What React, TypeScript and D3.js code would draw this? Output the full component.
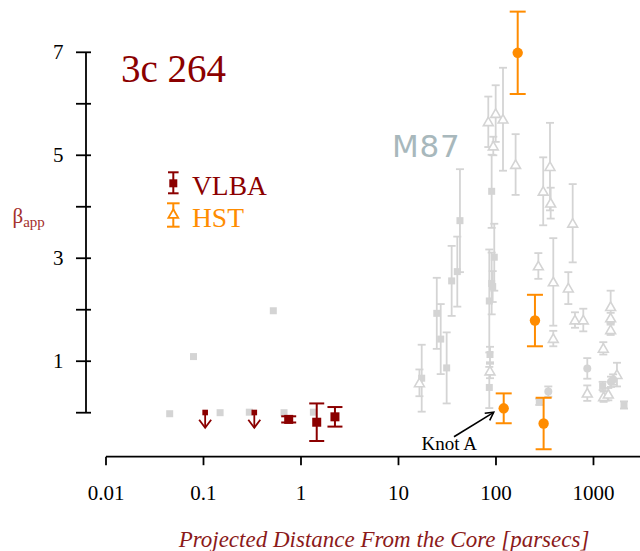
import React from 'react';
import * as d3 from 'd3';

const W = 640;
const H = 551;

// ---- 3c 264 : VLBA ----
const vlbaDist = [0.748, 1.45, 2.23];
const vlbaBeta = [-0.13, -0.185, -0.08];
const vlbaErr = [0.06, 0.365, 0.19];
const vlbaLimitDist = [0.104, 0.332];
const vlbaLimitBeta = [0, 0];

// ---- 3c 264 : HST ----
const hstDist = [120, 167, 251, 308];
const hstBeta = [0.085, 6.99, 1.79, -0.21];
const hstErr = [0.29, 0.8, 0.5, 0.5];

// ---- M87 comparison (grey) ----
const m87PlainDist = [0.045, 0.079, 0.148, 0.295, 0.52, 0.67, 1.34];
const m87PlainBeta = [-0.02, 1.09, 0, 0.01, 1.98, 0, 0.01];

const m87SqDist = [17.3, 24.7, 27.1, 31.2, 35.1, 40.1, 42.7, 90.3, 96, 90.3, 92.5, 85.4, 86.8, 85.4, 278, 1242, 2056];
const m87SqBeta = [0.67, 1.93, 1.43, 0.87, 2.56, 2.74, 3.73, 4.3, 3.02, 2.51, 2.45, 2.17, 1.13, 0.49, 0.21, 0.52, 0.15];
const m87SqErr = [0.65, 0.69, 0.68, 0.69, 0.68, 0.68, 1.0, 0.71, 0.65, 0.6, 0.3, 1.0, 0.15, 0.4, 0.06, 0.08, 0.07];

const m87TriDist = [16.4, 83.4, 99.3, 118, 93.8, 86.8, 159, 305, 358, 364, 612, 272, 387, 387, 552, 646, 786, 864, 1500, 1500, 1500, 1261, 1270, 1419, 1741];
const m87TriBeta = [0.58, 5.65, 5.81, 5.7, 5.18, 0.81, 4.82, 4.3, 4.78, 4.07, 3.68, 2.85, 2.54, 1.44, 2.42, 1.8, 1.8, 0.38, 2.06, 1.84, 1.61, 1.25, 0.31, 0.36, 0.74];
const m87TriErr = [0.26, 0.49, 0.55, 1.0, 0.18, 0.14, 0.59, 0.66, 0.85, 0.3, 0.76, 0.25, 0.85, 0.15, 0.31, 0.15, 0.22, 0.15, 0.31, 0.1, 0.1, 0.12, 0.1, 0.12, 0.23];

const m87CircDist = [864, 344, 1512, 1590];
const m87CircBeta = [0.86, 0.41, 0.6, 0.645];
const m87CircErr = [0.2, 0.1, 0.1, 0.1];

// ---- axes ----
const xTicks = [0.01, 0.1, 1, 10, 100, 1000];
const xTickLabels = ['0.01', '0.1', '1', '10', '100', '1000'];
const yTicks = [0, 1, 2, 3, 4, 5, 6, 7];
const yTickLabels = ['', '1', '', '3', '', '5', '', '7'];

const GREY = '#d4d4d4';
const ORANGE = '#ff8c00';
const DARKRED = '#8b0000';
const SERIF = '"Liberation Serif", "DejaVu Serif", serif';

export default function App() {
  const x = d3.scaleLog().domain([0.01, 3000]).range([106, 640]);
  const y = d3.scaleLinear().domain([0, 7]).range([412.7, 52.3]);
  const tri = d3.symbol().type(d3.symbolTriangle).size(42);
  const axisY = 456.7;

  const errBar = (cx: number, b: number, e: number, cap: number, color: string, sw: number, key: string) => (
    <g key={key} stroke={color} strokeWidth={sw} fill="none">
      <line x1={cx} x2={cx} y1={y(b + e)} y2={y(b - e)} />
      <line x1={cx - cap / 2} x2={cx + cap / 2} y1={y(b + e)} y2={y(b + e)} />
      <line x1={cx - cap / 2} x2={cx + cap / 2} y1={y(b - e)} y2={y(b - e)} />
    </g>
  );

  const knotX = x(hstDist[0]) - 10;
  const knotY = y(hstBeta[0]) + 4;

  return (
    <svg width={W} height={H} style={{ position: 'absolute', left: 0, top: 0, background: '#fff' }}>
      {/* grey M87 points without errors */}
      {m87PlainDist.map((d, i) => (
        <rect key={'p' + i} x={x(d) - 3.5} y={y(m87PlainBeta[i]) - 3.5} width={7} height={7} fill={GREY} />
      ))}
      {/* grey squares */}
      {m87SqDist.map((d, i) => errBar(x(d), m87SqBeta[i], m87SqErr[i], 8, GREY, 1.8, 'se' + i))}
      {m87SqDist.map((d, i) => (
        <rect key={'s' + i} x={x(d) - 3.5} y={y(m87SqBeta[i]) - 3.5} width={7} height={7} fill={GREY} />
      ))}
      {/* grey triangles */}
      {m87TriDist.map((d, i) => errBar(x(d), m87TriBeta[i], m87TriErr[i], 8, GREY, 1.8, 'te' + i))}
      {m87TriDist.map((d, i) => (
        <path key={'t' + i} d={tri() || ''} transform={`translate(${x(d)},${y(m87TriBeta[i]) + 1})`}
          fill="#fff" stroke={GREY} strokeWidth={1.6} />
      ))}
      {/* grey circles */}
      {m87CircDist.map((d, i) => errBar(x(d), m87CircBeta[i], m87CircErr[i], 8, GREY, 1.8, 'ce' + i))}
      {m87CircDist.map((d, i) => (
        <circle key={'c' + i} cx={x(d)} cy={y(m87CircBeta[i])} r={4} fill={GREY} />
      ))}

      {/* HST orange */}
      {hstDist.map((d, i) => errBar(x(d), hstBeta[i], hstErr[i], 16, ORANGE, 2, 'he' + i))}
      {hstDist.map((d, i) => (
        <circle key={'h' + i} cx={x(d)} cy={y(hstBeta[i])} r={5.2} fill={ORANGE} />
      ))}

      {/* VLBA dark red */}
      {vlbaDist.map((d, i) => errBar(x(d), vlbaBeta[i], vlbaErr[i], 15, DARKRED, 2, 've' + i))}
      {vlbaDist.map((d, i) => (
        <rect key={'v' + i} x={x(d) - 4.5} y={y(vlbaBeta[i]) - 4.5} width={9} height={9} fill={DARKRED} />
      ))}
      {vlbaLimitDist.map((d, i) => {
        const cx = x(d);
        const cy = y(vlbaLimitBeta[i]);
        return (
          <g key={'vl' + i}>
            <rect x={cx - 2.8} y={cy - 3} width={5.6} height={5.6} fill={DARKRED} />
            <g stroke={DARKRED} strokeWidth={1.8} fill="none">
              <line x1={cx} x2={cx} y1={cy} y2={cy + 15} />
              <polyline points={`${cx - 6},${cy + 7} ${cx},${cy + 15} ${cx + 6},${cy + 7}`} />
            </g>
          </g>
        );
      })}

      {/* Y axis */}
      <g stroke="#000" strokeWidth={1.8}>
        <line x1={86} x2={86} y1={y(0)} y2={y(7)} />
        {yTicks.map((t) => (
          <line key={'yt' + t} x1={76} x2={91} y1={y(t)} y2={y(t)} />
        ))}
      </g>
      {yTicks.map((t, i) => (
        <text key={'yl' + t} x={63.5} y={y(t) + 7} textAnchor="end" fontFamily={SERIF} fontSize={21} fill="#000">
          {yTickLabels[i]}
        </text>
      ))}

      {/* X axis */}
      <g stroke="#000" strokeWidth={1.8}>
        <line x1={106} x2={640} y1={axisY} y2={axisY} />
        {xTicks.map((t) => (
          <line key={'xt' + t} x1={x(t)} x2={x(t)} y1={axisY} y2={axisY + 8.5} />
        ))}
      </g>
      {xTicks.map((t, i) => (
        <text key={'xl' + t} x={x(t)} y={500} textAnchor="middle" fontFamily={SERIF} fontSize={21} fill="#000">
          {xTickLabels[i]}
        </text>
      ))}

      {/* axis titles */}
      <text x={384} y={546.5} textAnchor="middle" fontFamily={SERIF} fontStyle="italic" fontSize={23} fill="#8b1a1a">
        Projected Distance From the Core [parsecs]
      </text>
      <text x={12.5} y={222.5} fontFamily={SERIF} fill="#a4302c">
        <tspan fontSize={21}>β</tspan>
        <tspan fontSize={15} dy={4}>app</tspan>
      </text>

      {/* title */}
      <text x={121} y={81.5} fontFamily={SERIF} fontSize={39} fill={DARKRED}>3c 264</text>

      {/* M87 label */}
      <text x={392} y={156.7} fontFamily='"DejaVu Sans", sans-serif' fontSize={31} letterSpacing={0.8} fill="#a8b8bc">M87</text>

      {/* legend */}
      <g stroke={DARKRED} strokeWidth={2}>
        <line x1={173.3} x2={173.3} y1={172.3} y2={193.3} />
        <line x1={168} x2={178.6} y1={172.3} y2={172.3} />
        <line x1={168} x2={178.6} y1={193.3} y2={193.3} />
      </g>
      <rect x={169.3} y={179.3} width={8} height={8} fill={DARKRED} />
      <text x={192} y={195} fontFamily={SERIF} fontSize={27.5} fill={DARKRED}>VLBA</text>
      <g stroke={ORANGE} strokeWidth={2}>
        <line x1={173.3} x2={173.3} y1={203.3} y2={226.7} />
        <line x1={167} x2={179.6} y1={203.3} y2={203.3} />
        <line x1={167} x2={179.6} y1={226.7} y2={226.7} />
      </g>
      <path d={tri() || ''} transform="translate(173.3,215)" fill="#fff" stroke={ORANGE} strokeWidth={1.8} />
      <text x={192} y={226.5} fontFamily={SERIF} fontSize={27.5} fill={ORANGE}>HST</text>

      {/* Knot A annotation */}
      <text x={421.5} y={450} fontFamily={SERIF} fontSize={19} fill="#000">Knot A</text>
      <g stroke="#000" strokeWidth={1.6} fill="none">
        <line x1={454} y1={436.7} x2={knotX} y2={knotY} />
        <polyline points={`${knotX - 9},${knotY + 1} ${knotX},${knotY} ${knotX - 4},${knotY + 8}`} />
      </g>
    </svg>
  );
}
